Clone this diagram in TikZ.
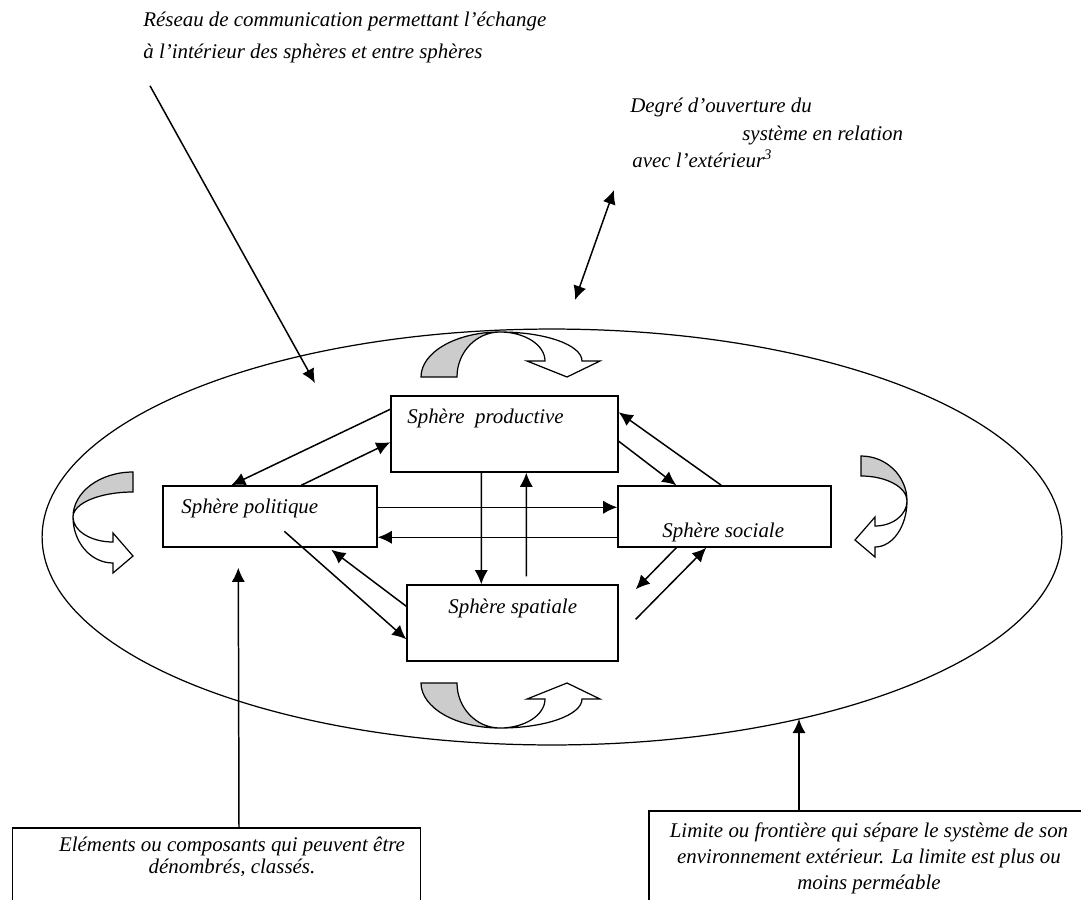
\documentclass[tikz,border=0pt]{standalone}
\usepackage{fontspec}
\setmainfont{Liberation Serif}
\usetikzlibrary{arrows.meta,calc,shapes.geometric}

\tikzset{
  sphere/.style={draw, line width=0.85pt, inner sep=0pt},
  lbl/.style={anchor=base west, inner sep=0pt, font=\fontsize{11.9}{14}\selectfont\itshape},
  fl/.style={-{Latex[length=8pt,width=7.5pt]}, line width=0.85pt},
  dfl/.style={{Latex[length=8pt,width=7.5pt]}-{Latex[length=8pt,width=7.5pt]}, line width=0.85pt},
  back/.style={fill=gray!40, draw, line width=0.7pt},
  front/.style={fill=white, draw, line width=0.7pt}
}

\begin{document}
\begin{tikzpicture}[x=0.02cm,y=-0.02cm]
        \clip (0,0) rectangle (1081,899);
        % the system and its limit
        \node[draw, ellipse, line width=0.7pt, inner sep=0pt, minimum width=20.4cm, minimum height=8.32cm] (sys) at (552,537) {};

        % texts on top
        \node[lbl] (resA) at (143,27) {Réseau de communication permettant l’échange};
        \node[lbl] (resB) at (143,58) {à l’intérieur des sphères et entre sphères};
        \node[lbl] (degA) at (630,112) {Degré d’ouverture du};
        \node[lbl] (degB) at (742,140) {système en relation};
        \node[lbl] (degC) at (632,167) {avec l’extérieur\textsuperscript{3}};

        % the four spheres
        \node[sphere, minimum width=4.54cm, minimum height=1.52cm] (prod) at (504.5,434) {};
        \node[lbl] (prodT) at (407,423) {Sphère\ \ productive};
        \node[sphere, minimum width=4.28cm, minimum height=1.22cm] (pol) at (270,516.5) {};
        \node[lbl] (polT) at (181,513) {Sphère politique};
        \node[sphere, minimum width=4.26cm, minimum height=1.22cm] (soc) at (724.5,516.5) {};
        \node[lbl] (socT) at (662,537) {Sphère sociale};
        \node[sphere, minimum width=4.22cm, minimum height=1.52cm] (spat) at (512.5,623) {};
        \node[lbl] (spatT) at (448,613) {Sphère spatiale};

        % exchanges between spheres
        \draw[fl] ($(prod.north west)+(0,14)$) -- ($(pol.north west)+(69,0)$);
        \draw[fl] ($(pol.north west)+(139,0)$) -- ($(prod.north west)+(0,47)$);
        \draw[fl] ($(pol.north east)+(0,22)$) -- ($(soc.north west)+(0,22)$);
        \draw[fl] ($(soc.north west)+(0,52)$) -- ($(pol.north east)+(0,52)$);
        \draw[fl] ($(prod.south west)+(91,0)$) -- ($(spat.north west)+(75,0)$);
        \draw[fl] ($(spat.north west)+(120,-8)$) -- ($(prod.south west)+(136,0)$);
        \draw[fl] ($(prod.north east)+(0,46)$) -- ($(soc.north west)+(59,0)$);
        \draw[fl] ($(soc.north west)+(104,0)$) -- ($(prod.north east)+(0,17)$);
        \draw[fl] ($(soc.south west)+(59,0)$) -- ($(spat.north east)+(17,5)$);
        \draw[fl] ($(spat.north east)+(17,35)$) -- ($(soc.south west)+(89,0)$);
        \draw[fl] ($(pol.north west)+(122,46)$) -- ($(spat.north west)+(0,55)$);
        \draw[fl] ($(spat.north west)+(0,22)$) -- ($(pol.south west)+(169,2)$);

        % curved arrows
        \filldraw[back] (421,377) arc[start angle=180, end angle=270, x radius=79, y radius=45]
            arc[start angle=270, end angle=180, x radius=43, y radius=45] -- cycle;
        \filldraw[front] (500,332) arc[start angle=270, end angle=360, x radius=82, y radius=29]
            -- (600,361) -- (567,377) -- (527,361) -- (545,361)
            arc[start angle=360, end angle=270, x radius=45, y radius=29] -- cycle;
        \filldraw[back] (421,683) arc[start angle=180, end angle=90, x radius=79, y radius=45]
            arc[start angle=90, end angle=180, x radius=43, y radius=45] -- cycle;
        \filldraw[front] (500,728) arc[start angle=90, end angle=0, x radius=82, y radius=29]
            -- (600,699) -- (567,683) -- (527,699) -- (545,699)
            arc[start angle=0, end angle=90, x radius=45, y radius=29] -- cycle;
        \filldraw[back] (133,472) arc[start angle=270, end angle=180, x radius=60, y radius=45]
            arc[start angle=180, end angle=270, x radius=60, y radius=25] -- cycle;
        \filldraw[front] (73,517) arc[start angle=180, end angle=90, x radius=40, y radius=46]
            -- (113,573) -- (133,556) -- (113,533) -- (113,542)
            arc[start angle=90, end angle=180, x radius=40, y radius=25] -- cycle;
        \filldraw[back] (861,456) arc[start angle=270, end angle=360, x radius=46, y radius=45]
            arc[start angle=360, end angle=270, x radius=46, y radius=25] -- cycle;
        \filldraw[front] (907,501) arc[start angle=0, end angle=90, x radius=32, y radius=46]
            -- (875,557) -- (855,540) -- (875,517) -- (875,526)
            arc[start angle=90, end angle=0, x radius=32, y radius=25] -- cycle;

        % notes at the bottom
        \node[sphere, anchor=north west, minimum width=8.16cm, minimum height=2cm] (elem) at (12,827) {};
        \node[inner sep=0pt, anchor=north, align=center, font=\fontsize{11.9}{12.5}\selectfont\itshape] (elemT) at (232,837)
            {Eléments ou composants qui peuvent être\\dénombrés, classés.};
        \node[sphere, anchor=north west, minimum width=9.2cm, minimum height=2.5cm] (lim) at (648,810) {};
        \node[inner sep=0pt, anchor=north, align=center, font=\fontsize{11.9}{15}\selectfont\itshape] (limT) at (869,822)
            {Limite ou frontière qui sépare le système de son\\environnement extérieur. La limite est plus ou\\moins perméable};

        % pointers
        \coordinate (netA) at ($(resB.south west)+(7,23)$);
        \coordinate (netB) at (315,383);
        \draw[fl] (netA) -- (netB);
        \coordinate (openA) at (614,190);
        \coordinate (openB) at (575,300);
        \draw[dfl] (openA) -- (openB);
        \draw[fl] ($(elem.north west)+(227,0)$) -- ($(pol.south west)+(76,20)$);
        \coordinate (edge) at (799,719);
        \draw[fl] ($(lim.north west)+(151,0)$) -- (edge);
\end{tikzpicture}
\end{document}
